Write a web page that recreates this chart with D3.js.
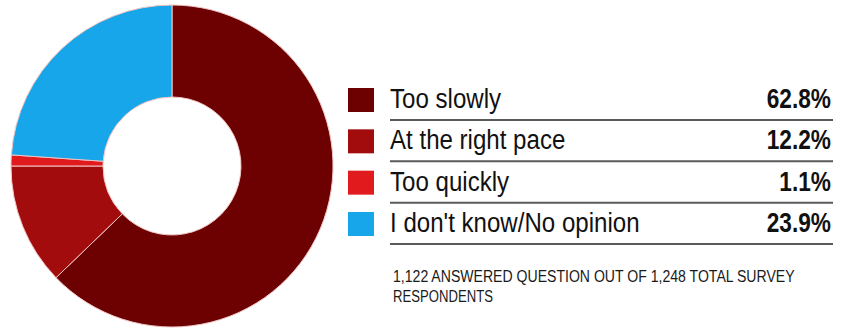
<!DOCTYPE html>
<html><head><meta charset="utf-8">
<script src="https://cdn.jsdelivr.net/npm/d3@7"></script>
<style>
html,body{margin:0;padding:0;background:#fff;}
svg{display:block;}
</style></head>
<body>
<svg id="chart" width="841" height="328"></svg>
<script>
const categories = ["Too slowly", "At the right pace", "Too quickly", "I don't know/No opinion"];
const values = [62.8, 12.2, 1.1, 23.9];
const valueLabels = ["62.8%", "12.2%", "1.1%", "23.9%"];
const colors = ["#6d0000", "#a30c0c", "#e11b1d", "#16a6e9"];
const footnote = ["1,122 ANSWERED QUESTION OUT OF 1,248 TOTAL SURVEY", "RESPONDENTS"];

const svg = d3.select("#chart");
const font = "'Liberation Sans Narrow', 'Arial Narrow', 'Liberation Sans', Arial, sans-serif";

const cx = 172, cy = 166, R = 161, r = 69;
const pie = d3.pie().sort(null).value(d => d);
const arc = d3.arc().innerRadius(r).outerRadius(R);
svg.append("g").attr("transform", `translate(${cx},${cy})`)
  .selectAll("path").data(pie(values)).join("path")
  .attr("d", arc)
  .attr("fill", (d, i) => colors[i])
  .attr("stroke", "#f0c4c4").attr("stroke-width", 1);

const baseY = d3.scalePoint().domain(categories).range([108, 232]);
const sx = 0.86;
const lg = svg.append("g");
categories.forEach((c, i) => {
  const y = baseY(c);
  lg.append("rect").attr("x", 348).attr("y", y - 20).attr("width", 26).attr("height", 24).attr("fill", colors[i]);
  lg.append("g").attr("transform", `translate(390,${y}) scale(${sx},1)`)
    .append("text").attr("font-family", font).attr("font-size", 28).attr("fill", "#111").text(c);
  lg.append("g").attr("transform", `translate(831,${y}) scale(0.84,1)`)
    .append("text").attr("text-anchor", "end").attr("font-family", font)
    .attr("font-weight", "bold").attr("font-size", 27).attr("fill", "#111").text(valueLabels[i]);
  lg.append("line").attr("x1", 390).attr("x2", 833).attr("y1", y + 12).attr("y2", y + 12)
    .attr("stroke", "#5a5a5a").attr("stroke-width", 2);
});

const fnWidths = [402, 100];
footnote.forEach((t, i) => {
  const g = svg.append("g");
  const txt = g.append("text").attr("font-family", font)
    .attr("font-size", 17).attr("fill", "#1a1a1a").text(t);
  const len = txt.node().getComputedTextLength();
  g.attr("transform", `translate(393,${282 + i * 20}) scale(${fnWidths[i] / len},1)`);
});
</script>
</body></html>
